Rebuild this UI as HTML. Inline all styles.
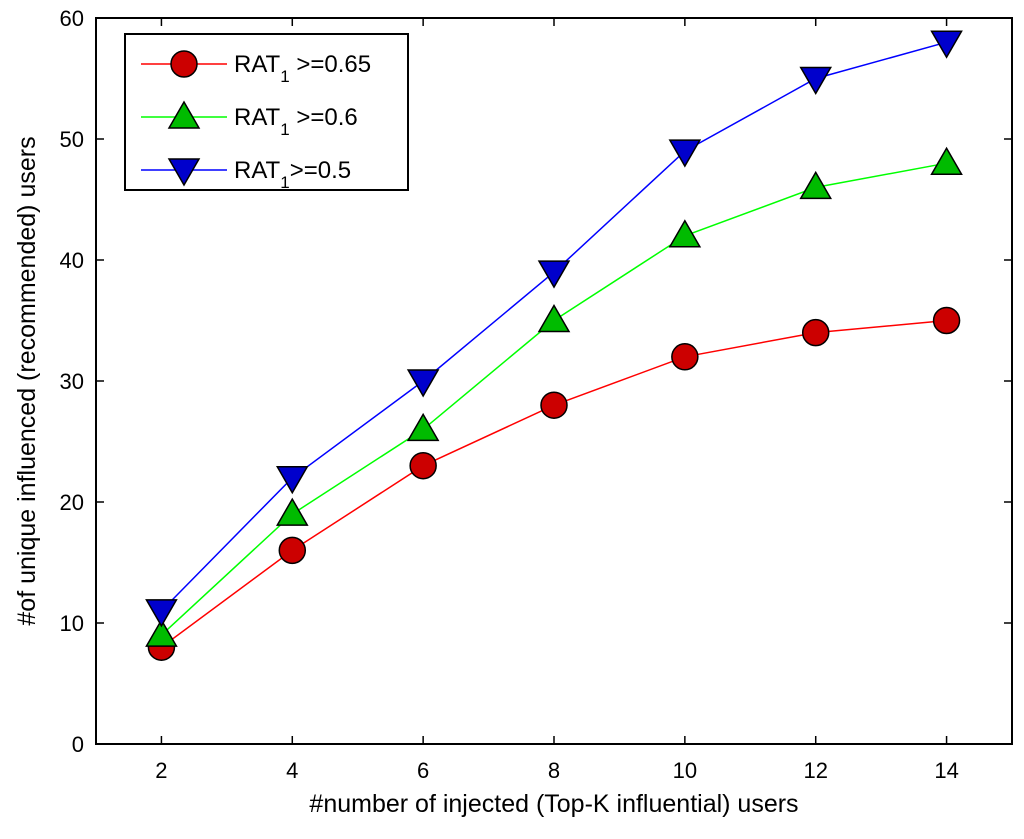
<!DOCTYPE html>
<html><head><meta charset="utf-8"><style>
body{margin:0;background:#fff}
svg{font-family:"Liberation Sans",Arial,sans-serif}
</style></head><body>
<svg id="c" width="1024" height="834" viewBox="0 0 1024 834"></svg>
<script>
const categories=[2,4,6,8,10,12,14];
const redVals=[8,16,23,28,32,34,35];
const greenVals=[9,19,26,35,42,46,48];
const blueVals=[11,22,30,39,49,55,58];
const yTicks=[0,10,20,30,40,50,60];
const xTicks=[2,4,6,8,10,12,14];
const L=96,R=1012,T=18,B=744;
const xs=v=>L+(v-1)/14*(R-L);
const ys=v=>B-v/60*(B-T);
const svg=document.getElementById('c');
const NS='http://www.w3.org/2000/svg';
function mk(t,a,p){const e=document.createElementNS(NS,t);for(const k in a)e.setAttribute(k,a[k]);(p||svg).appendChild(e);return e;}
let e;
e=mk('rect',{x:L,y:T,width:R-L,height:B-T,fill:'#fff',stroke:'#000','stroke-width':2});


yTicks.forEach(v=>{const y=ys(v);
mk('line',{x1:L,x2:L+8,y1:y,y2:y,stroke:'#000','stroke-width':1.5});
mk('line',{x1:R,x2:R-8,y1:y,y2:y,stroke:'#000','stroke-width':1.5});
e=mk('text',{x:L-12,y:y+8,'text-anchor':'end','font-size':22});e.textContent=v;

});
xTicks.forEach(v=>{const x=xs(v);
mk('line',{x1:x,x2:x,y1:B,y2:B-8,stroke:'#000','stroke-width':1.5});
mk('line',{x1:x,x2:x,y1:T,y2:T+8,stroke:'#000','stroke-width':1.5});
e=mk('text',{x:x,y:B+34,'text-anchor':'middle','font-size':22});e.textContent=v;

});
e=mk('text',{x:(L+R)/2,y:812,'text-anchor':'middle','font-size':25});e.textContent='#number of injected (Top-K influential) users';


e=mk('text',{x:0,y:0,'text-anchor':'middle','font-size':25,transform:`translate(35,${(T+B)/2}) rotate(-90)`});e.textContent='#of unique influenced (recommended) users';


function marker(kind,x,y,fill,g){
 if(kind==='o')return mk('circle',{cx:x,cy:y,r:13,fill:fill,stroke:'#000','stroke-width':1.5},g);
 if(kind==='^')return mk('polygon',{points:`${x},${y-15} ${x-15},${y+11} ${x+15},${y+11}`,fill:fill,stroke:'#000','stroke-width':1.5},g);
 return mk('polygon',{points:`${x},${y+15} ${x-15},${y-11} ${x+15},${y-11}`,fill:fill,stroke:'#000','stroke-width':1.5},g);
}
const series=[[redVals,'#ff0000','#cc0000','o','red'],[greenVals,'#00ff00','#00bb00','^','green'],[blueVals,'#0000ff','#0000cc','v','blue']];
series.forEach(([vals,lc,fc,k,n])=>{
 const g=mk('g',{});
 
 
 mk('polyline',{points:vals.map((v,i)=>xs(categories[i])+','+ys(v)).join(' '),fill:'none',stroke:lc,'stroke-width':1.5},g);
 vals.forEach((v,i)=>{const m=marker(k,xs(categories[i]),ys(v),fc,g);
 
 });
});
const lg=mk('g',{});


mk('rect',{x:125,y:34,width:283,height:156,fill:'#fff',stroke:'#000','stroke-width':2},lg);
const labels=['>=0.65','>=0.6','>=0.5'];
series.forEach(([v,lc,fc,k,n],i)=>{const y=64+i*53;
 const g=mk('g',{},lg);
 
 
 mk('line',{x1:141,x2:227,y1:y,y2:y,stroke:lc,'stroke-width':1.5},g);
 marker(k,184,y,fc,g);
 const t=mk('text',{x:234,y:y+8,'font-size':24},g);
 t.innerHTML='RAT<tspan font-size="17" dy="10">1</tspan><tspan dy="-10">'+(i<2?' ':'')+labels[i]+'</tspan>';
});
</script>
</body></html>
